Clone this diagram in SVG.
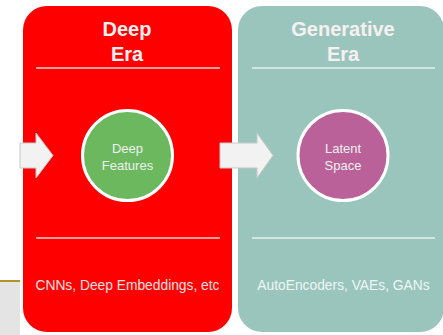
<svg xmlns="http://www.w3.org/2000/svg" width="443" height="335" viewBox="0 0 443 335">
<style>
.panel-title{font-family:"Liberation Sans",Arial,sans-serif;font-weight:bold;font-size:20px;fill:#f7f0f0;text-anchor:middle}
.circ-label{font-family:"Liberation Sans",Arial,sans-serif;font-size:13px;fill:#eef0ee;text-anchor:middle}
.foot{font-family:"Liberation Sans",Arial,sans-serif;font-size:13.8px;fill:#f5e0e0;text-anchor:middle}
.rule{stroke-width:2;opacity:0.75}
.circ{stroke:#ffffff;stroke-width:3}
.arrow{fill:#f2f2f2;stroke:#c8c8c8;stroke-width:1}
</style>
<rect width="443" height="335" fill="#ffffff"/>
<rect x="0" y="282" width="20" height="53" fill="#e4e4e4"/>
<line x1="0" y1="281" x2="20" y2="281" stroke="#b8902a" stroke-width="2"/>
<g id="deep-era">
<rect x="23" y="6" width="209" height="326" rx="24" fill="#ff0000"/>
<text class="panel-title" x="127" y="36">Deep</text>
<text class="panel-title" x="127" y="61">Era</text>
<line class="rule" x1="36" y1="68" x2="220" y2="68" stroke="#ffd0d0"/>
<line class="rule" x1="36" y1="238" x2="220" y2="238" stroke="#ffd0d0"/>
<text class="foot" x="127.5" y="290">CNNs, Deep Embeddings, etc</text>
</g>
<g id="generative-era">
<rect x="238" y="6" width="206" height="326" rx="24" fill="#9ac5bd"/>
<text class="panel-title" x="343" y="36">Generative</text>
<text class="panel-title" x="343" y="61">Era</text>
<line class="rule" x1="252" y1="68" x2="435" y2="68" stroke="#e6f2ef"/>
<line class="rule" x1="252" y1="238" x2="435" y2="238" stroke="#e6f2ef"/>
<text class="foot" x="343.5" y="290" style="fill:#eef6f4">AutoEncoders, VAEs, GANs</text>
</g>
<g id="deep-features">
<circle class="circ" cx="127.5" cy="155.5" r="45" fill="#6bb85f"/>
<text class="circ-label" x="127.5" y="153">Deep</text>
<text class="circ-label" x="127.5" y="170">Features</text>
</g>
<g id="latent-space">
<circle class="circ" cx="343" cy="155.5" r="45" fill="#ba6199"/>
<text class="circ-label" x="343" y="153">Latent</text>
<text class="circ-label" x="343" y="170">Space</text>
</g>
<g id="connectors">
<path class="arrow" d="M20,143 H36 V133 L53,155.5 L36,178 V168 H20 Z"/>
<path class="arrow" d="M220,143 H257 V133 L273,155.5 L257,178 V168 H220 Z"/>
</g>
</svg>
